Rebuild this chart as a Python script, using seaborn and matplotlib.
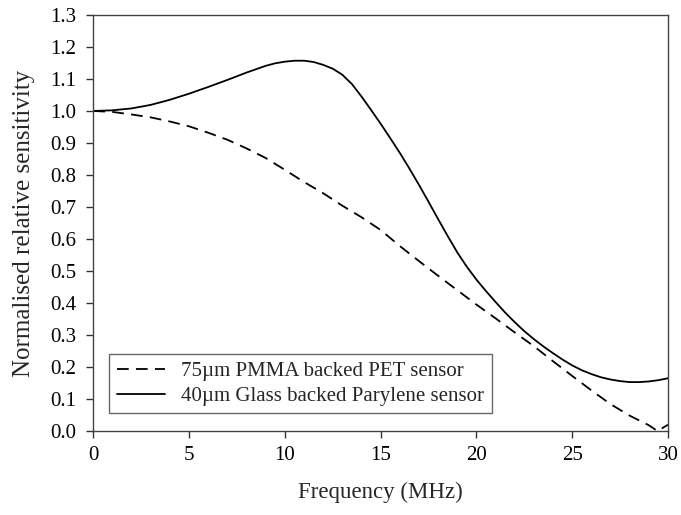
import pandas as pd
import matplotlib
matplotlib.use("Agg")
import matplotlib.pyplot as plt
import seaborn as sns

freq_pet = [0, 1, 2, 3, 4, 5, 6, 7, 8, 9, 10, 11, 12, 13, 14, 15, 16, 17, 18, 19,
            20, 21, 22, 23, 24, 25, 26, 27, 28, 29, 29.45, 30]
sens_pet = [1.000, 0.997, 0.989, 0.980, 0.967, 0.952, 0.932, 0.910, 0.883, 0.853,
            0.816, 0.778, 0.743, 0.704, 0.668, 0.628, 0.578, 0.531, 0.485, 0.440,
            0.395, 0.352, 0.308, 0.265, 0.218, 0.172, 0.127, 0.084, 0.048, 0.018,
            0.000, 0.020]

freq_par = [0, 1, 2, 3, 4, 5, 6, 7, 8, 9, 9.5, 10, 10.5, 11, 11.5, 12, 12.5, 13,
            13.5, 14, 14.5, 15, 15.5, 16, 16.5, 17, 17.5, 18, 18.5, 19, 19.5, 20,
            20.5, 21, 21.5, 22, 22.5, 23, 23.5, 24, 24.5, 25, 25.5, 26, 26.5, 27,
            27.5, 28, 28.5, 29, 29.5, 30]
sens_par = [1.000, 1.002, 1.008, 1.019, 1.035, 1.054, 1.075, 1.097, 1.120, 1.141,
            1.149, 1.154, 1.157, 1.157, 1.153, 1.144, 1.132, 1.113, 1.084, 1.045,
            1.003, 0.960, 0.915, 0.869, 0.820, 0.769, 0.716, 0.662, 0.609, 0.558,
            0.513, 0.473, 0.437, 0.403, 0.370, 0.340, 0.312, 0.287, 0.264, 0.243,
            0.223, 0.205, 0.190, 0.178, 0.168, 0.161, 0.156, 0.153, 0.153, 0.155,
            0.159, 0.165]

labels = ["75\u00b5m PMMA backed PET sensor", "40\u00b5m Glass backed Parylene sensor"]

df = pd.concat([
    pd.DataFrame({"Frequency": freq_pet, "Sensitivity": sens_pet, "Sensor": labels[0]}),
    pd.DataFrame({"Frequency": freq_par, "Sensitivity": sens_par, "Sensor": labels[1]}),
])

sns.set_style("ticks")
plt.rcParams['font.family'] = ['Liberation Serif', 'DejaVu Serif']

fig, ax = plt.subplots(figsize=(6.81, 5.15), dpi=100)
fig.subplots_adjust(left=0.137, right=0.981, top=0.971, bottom=0.163)

sns.lineplot(data=df, x="Frequency", y="Sensitivity", hue="Sensor", style="Sensor",
             palette=["black", "black"], dashes={labels[0]: (6.5, 4), labels[1]: ""},
             linewidth=1.3, ax=ax)

ax.set_xlim(0, 30)
ax.set_ylim(0, 1.3)
ax.set_xticks(range(0, 31, 5))
ax.set_yticks([i / 10 for i in range(14)])
ax.set_yticklabels([f"{i / 10:.1f}" for i in range(14)])
ax.tick_params(direction="out", length=5, width=1, colors="#333333", labelsize=15,
               labelcolor="black")
ax.tick_params(axis="y", pad=7)
ax.tick_params(axis="x", pad=6)
for s in ax.spines.values():
    s.set_visible(True)
    s.set_color("#444444")
    s.set_linewidth(1.0)

ax.set_xlabel("Frequency (MHz)", fontsize=16.5, labelpad=12)
ax.set_ylabel("Normalised relative sensitivity", fontsize=18, labelpad=11)

leg = ax.legend(loc="lower left", bbox_to_anchor=(0.028, 0.043), borderaxespad=0,
                fontsize=15, frameon=True, fancybox=False, edgecolor="#444444",
                handlelength=2.3, handletextpad=0.8, borderpad=0.35, labelspacing=0.25)
leg.get_frame().set_linewidth(1.0)

fig.savefig("out.png", dpi=100)
